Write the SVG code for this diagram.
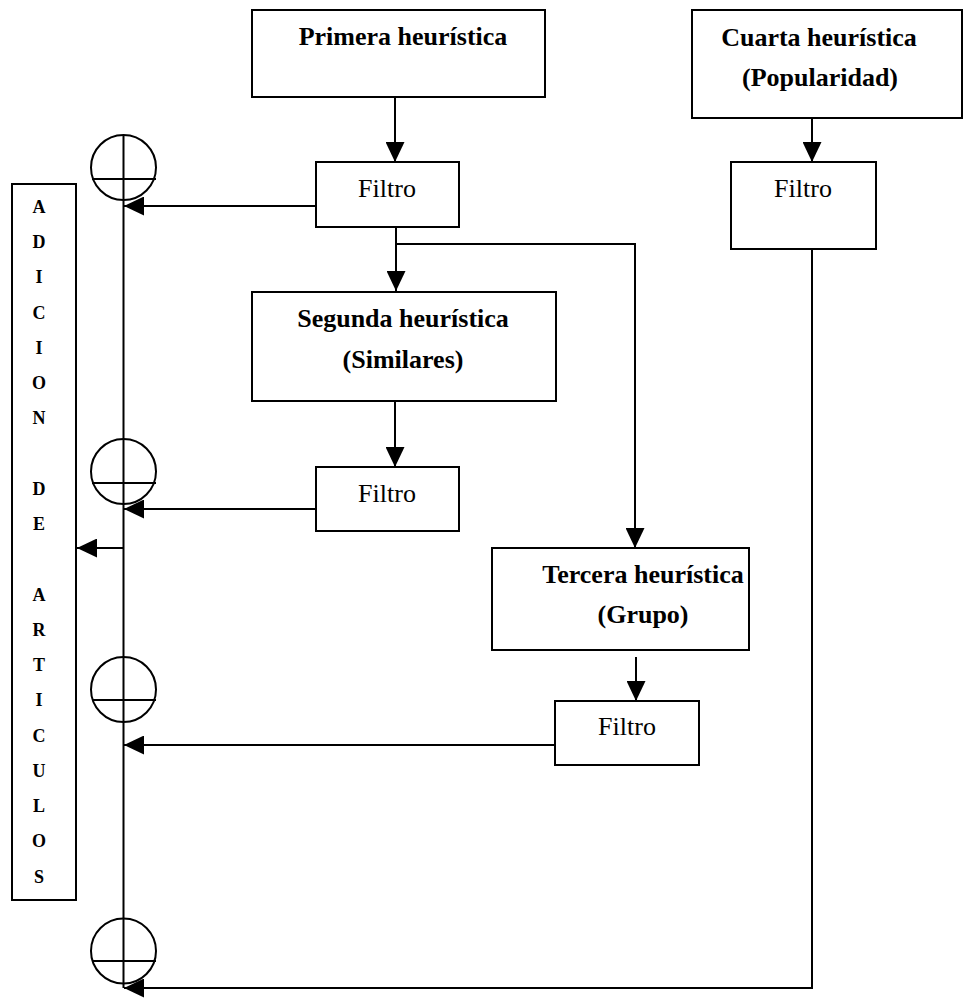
<svg xmlns="http://www.w3.org/2000/svg" width="963" height="998" viewBox="0 0 963 998">
<style>
.box{fill:#fff;stroke:#000;stroke-width:2}
.ln{fill:none;stroke:#000;stroke-width:2}
.arr{fill:none;stroke:#000;stroke-width:2;marker-end:url(#ah)}
.th{font-family:"Liberation Serif","Times New Roman",serif;font-weight:bold;font-size:26px;text-anchor:middle}
.tf{font-family:"Liberation Serif","Times New Roman",serif;font-size:26px;text-anchor:middle}
.tv{font-family:"Liberation Serif","Times New Roman",serif;font-weight:bold;font-size:18px;text-anchor:middle}
.sum{fill:none;stroke:#000;stroke-width:2}
</style>
<defs>
<marker id="ah" viewBox="0 0 20 19" refX="20" refY="9.5" markerWidth="20" markerHeight="19" markerUnits="userSpaceOnUse" orient="auto">
<path d="M0,0 L20,9.5 L0,19 z" fill="#000"/>
</marker>
</defs>
<rect width="963" height="998" fill="#fff"/>

<g id="connectors">
<line class="arr" x1="395" y1="97" x2="395" y2="162"/>
<line class="arr" x1="812" y1="118" x2="812" y2="162"/>
<line class="arr" x1="396" y1="227" x2="396" y2="291"/>
<polyline class="arr" points="396,244 635,244 635,548"/>
<line class="arr" x1="395" y1="401" x2="395" y2="467"/>
<line class="arr" x1="636" y1="657" x2="636" y2="701"/>
<line class="arr" x1="316" y1="206" x2="124" y2="206"/>
<line class="arr" x1="316" y1="509" x2="124" y2="509"/>
<line class="arr" x1="555" y1="745" x2="124" y2="745"/>
<polyline class="arr" points="812,249 812,988 124,988"/>
<line class="ln" x1="123.5" y1="135" x2="123.5" y2="988"/>
<line class="arr" x1="123.5" y1="548" x2="77" y2="548"/>
</g>

<g id="sum1"><circle class="sum" cx="123.5" cy="167.5" r="32.5"/><line class="ln" x1="92" y1="179" x2="156" y2="179"/></g>
<g id="sum2"><circle class="sum" cx="123.5" cy="471.5" r="32.5"/><line class="ln" x1="92" y1="483" x2="156" y2="483"/></g>
<g id="sum3"><circle class="sum" cx="123.5" cy="689.5" r="32.5"/><line class="ln" x1="92" y1="700" x2="156" y2="700"/></g>
<g id="sum4"><circle class="sum" cx="123.5" cy="951" r="32.5"/><line class="ln" x1="92" y1="961" x2="156" y2="961"/></g>

<g id="primera">
<rect class="box" x="252" y="10" width="293" height="87"/>
<text class="th" x="403" y="45">Primera heurística</text>
</g>
<g id="filtro1">
<rect class="box" x="316" y="162" width="143" height="65"/>
<text class="tf" x="387" y="197">Filtro</text>
</g>
<g id="segunda">
<rect class="box" x="252" y="292" width="304" height="109"/>
<text class="th" x="403" y="327">Segunda heurística</text>
<text class="th" x="403" y="368">(Similares)</text>
</g>
<g id="filtro2">
<rect class="box" x="316" y="467" width="143" height="64"/>
<text class="tf" x="387" y="502">Filtro</text>
</g>
<g id="tercera">
<rect class="box" x="492" y="548" width="257" height="102"/>
<text class="th" x="643" y="583">Tercera heurística</text>
<text class="th" x="643" y="623">(Grupo)</text>
</g>
<g id="filtro3">
<rect class="box" x="555" y="701" width="144" height="64"/>
<text class="tf" x="627" y="735">Filtro</text>
</g>
<g id="cuarta">
<rect class="box" x="692" y="10" width="270" height="108"/>
<text class="th" x="819" y="46">Cuarta heurística</text>
<text class="th" x="820" y="86">(Popularidad)</text>
</g>
<g id="filtro4">
<rect class="box" x="731" y="162" width="145" height="87"/>
<text class="tf" x="803" y="197">Filtro</text>
</g>
<g id="adicion">
<rect class="box" x="12" y="184" width="64" height="716"/>
<text class="tv" x="39" y="213">A</text>
<text class="tv" x="39" y="248">D</text>
<text class="tv" x="39" y="283">I</text>
<text class="tv" x="39" y="319">C</text>
<text class="tv" x="39" y="354">I</text>
<text class="tv" x="39" y="389">O</text>
<text class="tv" x="39" y="424">N</text>
<text class="tv" x="39" y="495">D</text>
<text class="tv" x="39" y="530">E</text>
<text class="tv" x="39" y="601">A</text>
<text class="tv" x="39" y="636">R</text>
<text class="tv" x="39" y="671">T</text>
<text class="tv" x="39" y="706">I</text>
<text class="tv" x="39" y="742">C</text>
<text class="tv" x="39" y="777">U</text>
<text class="tv" x="39" y="812">L</text>
<text class="tv" x="39" y="847">O</text>
<text class="tv" x="39" y="883">S</text>
</g>
</svg>
